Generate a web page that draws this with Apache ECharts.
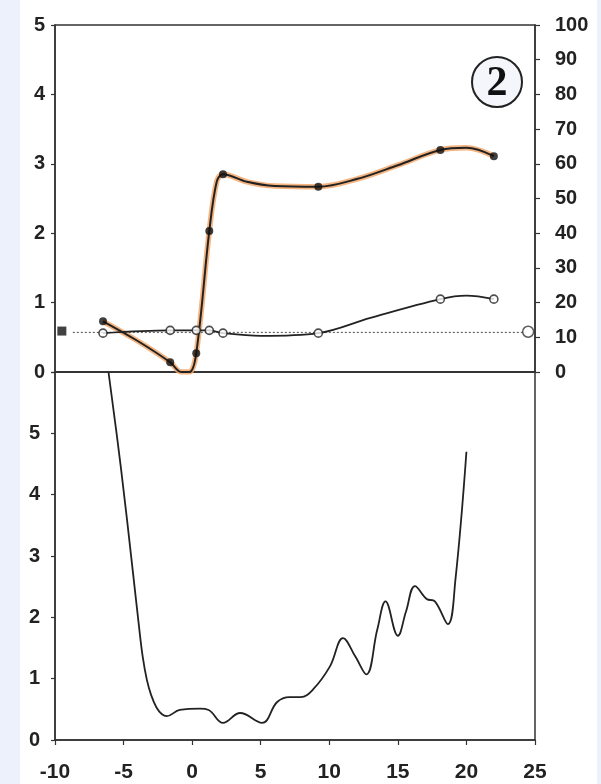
<!DOCTYPE html>
<html>
<head>
<meta charset="utf-8">
<script src="https://cdn.jsdelivr.net/npm/echarts@6/dist/echarts.min.js"></script>
<style>
  html, body { margin: 0; padding: 0; }
  #chart {
    width: 601px; height: 784px;
    background: linear-gradient(to right, #ecf1fb 0, #ecf1fb 20px, #ffffff 20px, #ffffff 597px, #ecf1fb 597px);
  }
</style>
</head>
<body>
<div id="chart"></div>
<script>
// Shared x range
const xMin = -10, xMax = 25, xStep = 5;

// Upper panel: measured points (filled = black dots, open = white dots)
const pointX  = [-6.5, -1.6, 0.3, 1.25, 2.25, 9.2, 18.1, 22];
const filledY = [0.73, 0.14, 0.27, 2.03, 2.85, 2.67, 3.2, 3.11];
const openY   = [0.56, 0.6, 0.6, 0.6, 0.56, 0.56, 1.05, 1.05];

// Upper panel: traced fitted curves
const curveAX = [-6.5, -4.0, -1.6, -0.8, -0.2, 0.3, 1.25, 1.8, 2.25, 4, 6, 9.2, 12, 15, 18.1, 20, 22];
const curveAY = [0.73, 0.45, 0.14, 0.0, 0.0, 0.27, 2.03, 2.75, 2.85, 2.74, 2.68, 2.67, 2.78, 2.98, 3.2, 3.23, 3.11];
const curveBX = [-6.5, -1.6, 0.3, 1.25, 2.25, 5, 9.2, 13, 18.1, 20, 22];
const curveBY = [0.56, 0.6, 0.6, 0.6, 0.56, 0.52, 0.56, 0.78, 1.05, 1.1, 1.05];

// Baseline reference (dotted) with its end markers
const refLineX = [-8.7, 24.3];
const refLineY = [0.57, 0.57];
const refStart = [-9.5, 0.59];
const refEnd   = [24.5, 0.58];

// Lower panel: traced curve
const lowerX = [-6.1, -5.2, -4.3, -3.9, -3.6, -3.3, -3.0, -2.6, -2.2, -1.85, -0.9, 0.6, 1.2, 2.25, 3.5, 5.1, 6.2, 7.1, 7.9, 8.8, 10.05, 11.0, 11.9, 12.7, 13.5, 14.1, 15.0, 15.6, 16.25, 17.1, 17.7, 18.65, 19.2, 20.0];
const lowerY = [6.0, 4.45, 2.7, 1.9, 1.35, 0.98, 0.74, 0.53, 0.42, 0.39, 0.49, 0.51, 0.49, 0.28, 0.44, 0.28, 0.62, 0.7, 0.7, 0.82, 1.2, 1.66, 1.36, 1.07, 1.8, 2.26, 1.7, 2.1, 2.51, 2.3, 2.26, 1.89, 2.62, 4.7];

const zip = (xs, ys) => xs.map((x, i) => [x, ys[i]]);

const ink = '#222';
const labelFont = { fontFamily: 'Liberation Sans, Arial, sans-serif', fontWeight: 'bold', color: ink };
const axisLine = { show: true, onZero: false, lineStyle: { color: '#333', width: 1.5 } };

const chart = echarts.init(document.getElementById('chart'), null, { renderer: 'canvas' });

chart.setOption({
  animation: false,
  grid: [
    { left: 55, right: 66, top: 25, height: 347, show: true, borderColor: '#333', borderWidth: 1.5, backgroundColor: 'transparent' },
    { left: 55, right: 66, top: 372, height: 368, show: true, borderColor: '#333', borderWidth: 1.5, backgroundColor: 'transparent' }
  ],
  xAxis: [
    { type: 'value', gridIndex: 0, min: xMin, max: xMax, interval: xStep,
      axisLine: axisLine,
      axisTick: { show: false }, axisLabel: { show: false }, splitLine: { show: false } },
    { type: 'value', gridIndex: 1, min: xMin, max: xMax, interval: xStep,
      axisLine: axisLine,
      axisTick: { length: 5, lineStyle: { color: '#333', width: 1.2 } },
      axisLabel: Object.assign({ fontSize: 21, margin: 22, formatter: v => String(v) }, labelFont),
      splitLine: { show: false } }
  ],
  yAxis: [
    { type: 'value', gridIndex: 0, min: 0, max: 5, interval: 1,
      axisLine: axisLine,
      axisTick: { show: true, length: 4, lineStyle: { color: '#333', width: 1.2 } },
      axisLabel: Object.assign({ fontSize: 20, margin: 10 }, labelFont),
      splitLine: { show: false } },
    { type: 'value', gridIndex: 0, position: 'right', min: 0, max: 100, interval: 10,
      axisLine: axisLine,
      axisTick: { show: true, length: 5, lineStyle: { color: '#333', width: 1.2 } },
      axisLabel: Object.assign({ fontSize: 20, margin: 20 }, labelFont),
      splitLine: { show: false } },
    { type: 'value', gridIndex: 1, min: 0, max: 6, interval: 1,
      axisLine: axisLine,
      axisTick: { show: true, length: 4, lineStyle: { color: '#333', width: 1.2 } },
      axisLabel: Object.assign({ fontSize: 20, margin: 15, formatter: v => (v === 6 ? '' : String(v)) }, labelFont),
      splitLine: { show: false } }
  ],
  series: [
    // orange band under curve A
    { type: 'line', xAxisIndex: 0, yAxisIndex: 0, data: zip(curveAX, curveAY), smooth: 0.35,
      showSymbol: false, silent: true, z: 2,
      lineStyle: { color: '#f2a86c', width: 5.5, opacity: 0.85 } },
    // curve A
    { type: 'line', xAxisIndex: 0, yAxisIndex: 0, data: zip(curveAX, curveAY), smooth: 0.35,
      showSymbol: false, silent: true, z: 3,
      lineStyle: { color: ink, width: 2 } },
    // curve B
    { type: 'line', xAxisIndex: 0, yAxisIndex: 0, data: zip(curveBX, curveBY), smooth: 0.35,
      showSymbol: false, silent: true, z: 3,
      lineStyle: { color: ink, width: 1.8 } },
    // dotted reference line
    { type: 'line', xAxisIndex: 0, yAxisIndex: 0, data: zip(refLineX, refLineY),
      showSymbol: false, silent: true, z: 2,
      lineStyle: { color: '#666', width: 1.2, type: [2, 2] } },
    // open points
    { type: 'scatter', xAxisIndex: 0, yAxisIndex: 0, data: zip(pointX, openY), symbol: 'circle', symbolSize: 8, z: 5,
      itemStyle: { color: '#fff', borderColor: ink, borderWidth: 1.6 } },
    // filled points
    { type: 'scatter', xAxisIndex: 0, yAxisIndex: 0, data: zip(pointX, filledY), symbol: 'circle', symbolSize: 8, z: 6,
      itemStyle: { color: '#111' } },
    // reference end markers
    { type: 'scatter', xAxisIndex: 0, yAxisIndex: 0, data: [refStart], symbol: 'rect', symbolSize: 9, z: 6,
      itemStyle: { color: '#111' } },
    { type: 'scatter', xAxisIndex: 0, yAxisIndex: 0, data: [refEnd], symbol: 'circle', symbolSize: 11, z: 6,
      itemStyle: { color: '#fff', borderColor: '#333', borderWidth: 1.5 } },
    // lower panel curve
    { type: 'line', xAxisIndex: 1, yAxisIndex: 2, data: zip(lowerX, lowerY), smooth: 0.4,
      showSymbol: false, silent: true, z: 3,
      lineStyle: { color: ink, width: 1.8 } }
  ],
  graphic: [
    { type: 'circle', shape: { cx: 497, cy: 82, r: 25 }, z: 10,
      style: { fill: '#f4f6fc', stroke: '#222', lineWidth: 2 } },
    { type: 'text', x: 497, y: 84, z: 11,
      style: { text: '2', fill: '#111', font: 'bold 42px "Liberation Serif", "DejaVu Serif", serif', align: 'center', verticalAlign: 'middle' } }
  ]
});
</script>
</body>
</html>
